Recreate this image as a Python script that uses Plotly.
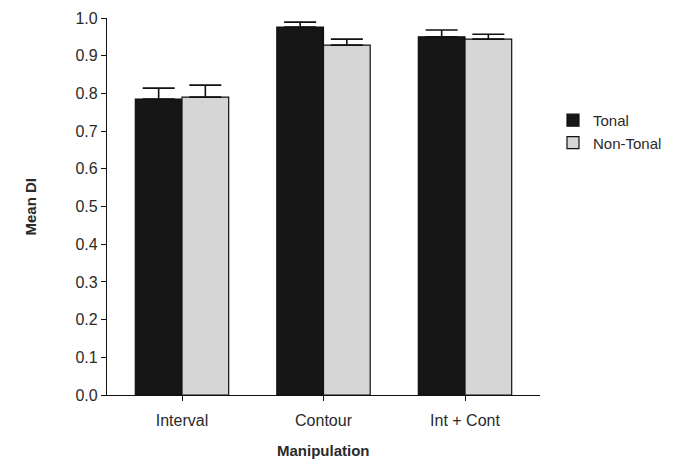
import plotly.graph_objects as go

categories = ["Interval", "Contour", "Int + Cont"]
tonal = [0.785, 0.976, 0.950]
tonal_err = [0.029, 0.013, 0.018]
nontonal = [0.790, 0.928, 0.944]
nontonal_err = [0.032, 0.016, 0.013]
yticks = [0.0, 0.1, 0.2, 0.3, 0.4, 0.5, 0.6, 0.7, 0.8, 0.9, 1.0]
ytick_labels = ["0.0", "0.1", "0.2", "0.3", "0.4", "0.5", "0.6", "0.7", "0.8", "0.9", "1.0"]

FONT = "Liberation Sans, Arial, sans-serif"
TXT = "#2a2a2a"

fig = go.Figure()
fig.add_trace(go.Bar(
    x=categories, y=tonal, name="Tonal",
    marker=dict(color="#161616", line=dict(color="#111111", width=1.2)),
    error_y=dict(type="data", array=tonal_err, arrayminus=[0, 0, 0], symmetric=False,
                 color="#111111", thickness=1.6, width=16),
))
fig.add_trace(go.Bar(
    x=categories, y=nontonal, name="Non-Tonal",
    marker=dict(color="#d6d6d6", line=dict(color="#111111", width=1.2)),
    error_y=dict(type="data", array=nontonal_err, arrayminus=[0, 0, 0], symmetric=False,
                 color="#111111", thickness=1.6, width=16),
))

fig.update_layout(
    width=671, height=451,
    margin=dict(l=99, r=139, t=10, b=64, autoexpand=False),
    paper_bgcolor="white", plot_bgcolor="white",
    barmode="group", bargap=0.34, bargroupgap=0.0,
    font=dict(family=FONT, size=16, color=TXT),
    legend=dict(x=1.03, y=0.772, xanchor="left", yanchor="top",
                font=dict(size=15, color=TXT), bgcolor="rgba(0,0,0,0)",
                itemwidth=30, tracegroupgap=3),
    xaxis=dict(
        range=[-0.53, 2.53], showline=True, linecolor="#111111", linewidth=1.3,
        ticks="outside", ticklen=5, tickcolor="#111111", showgrid=False,
        automargin=False, tickfont=dict(size=16, color=TXT), ticklabelstandoff=6,
    ),
    yaxis=dict(
        range=[0, 1.0], showline=True, linecolor="#111111", linewidth=1.3,
        ticks="outside", ticklen=5, tickcolor="#111111", showgrid=False,
        tickvals=yticks, ticktext=ytick_labels, zeroline=False,
        automargin=False, tickfont=dict(size=16, color=TXT),
    ),
    annotations=[
        dict(text="<b>Manipulation</b>", xref="paper", yref="paper", x=0.5, y=0,
             yshift=-55, xanchor="center", yanchor="middle", showarrow=False,
             font=dict(size=15, color=TXT)),
        dict(text="<b>Mean DI</b>", xref="paper", yref="paper", x=0, xshift=-77,
             y=0.5, xanchor="center", yanchor="middle", textangle=-90, showarrow=False,
             font=dict(size=15, color=TXT)),
    ],
)

fig.write_html("out.html")
